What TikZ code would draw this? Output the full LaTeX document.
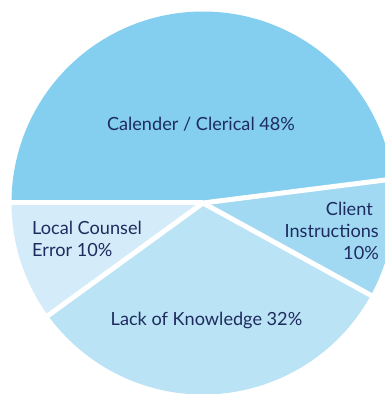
\documentclass[tikz,border=0pt]{standalone}
\usepackage{fontspec}
\setmainfont{Lato}
\usepackage{xcolor}
\usepackage{tikz}
\usetikzlibrary{calc}
\definecolor{clerical}{HTML}{84CFEF}
\definecolor{client}{HTML}{A1D9F3}
\definecolor{knowledge}{HTML}{BAE3F5}
\definecolor{counsel}{HTML}{D4ECF9}
\definecolor{ink}{HTML}{1E2B5E}
\tikzset{
  gap/.style={draw=white, line width=5bp, line cap=butt},
  lab/.style={text=ink, font=\fontsize{18.2}{22}\selectfont, inner sep=0pt},
}
\begin{document}
\begin{tikzpicture}[x=1bp,y=1bp]
  \useasboundingbox (0,0) rectangle (385,394);
  \def\R{191.5bp}
  \def\L{200bp}
  \coordinate (O) at (203,191);
  % slices, clockwise from the left
  \fill[clerical]  (O) -- ($(O)+(180:\R)$) arc (180:7.2:\R) -- cycle;
  \fill[client]    (O) -- ($(O)+(7.2:\R)$) arc (7.2:-28.8:\R) -- cycle;
  \fill[knowledge] (O) -- ($(O)+(-28.8:\R)$) arc (-28.8:-144:\R) -- cycle;
  \fill[counsel]   (O) -- ($(O)+(-144:\R)$) arc (-144:-180:\R) -- cycle;
  % white gaps
  \coordinate (g1) at ($(O)+(180:\L)$);
  \coordinate (g2) at ($(O)+(7.2:\L)$);
  \coordinate (g3) at ($(O)+(-28.8:\L)$);
  \coordinate (g4) at ($(O)+(-144:\L)$);
  \draw[gap] (O) -- (g1);
  \draw[gap] (O) -- (g2);
  \draw[gap] (O) -- (g3);
  \draw[gap] (O) -- (g4);
  % labels
  \node[lab,anchor=base] (clericalLab) at (201,264) {Calender / Clerical 48\%};
  \node[lab,anchor=east,align=right] (clientLab) at (379,163) {Client\hspace*{6bp}\\Instructions\\10\%};
  \node[lab,anchor=west,align=left] (counselLab) at (32,155) {Local Counsel\\Error 10\%};
  \node[lab,anchor=base] (knowledgeLab) at (206.5,69) {Lack of Knowledge 32\%};
\end{tikzpicture}
\end{document}
